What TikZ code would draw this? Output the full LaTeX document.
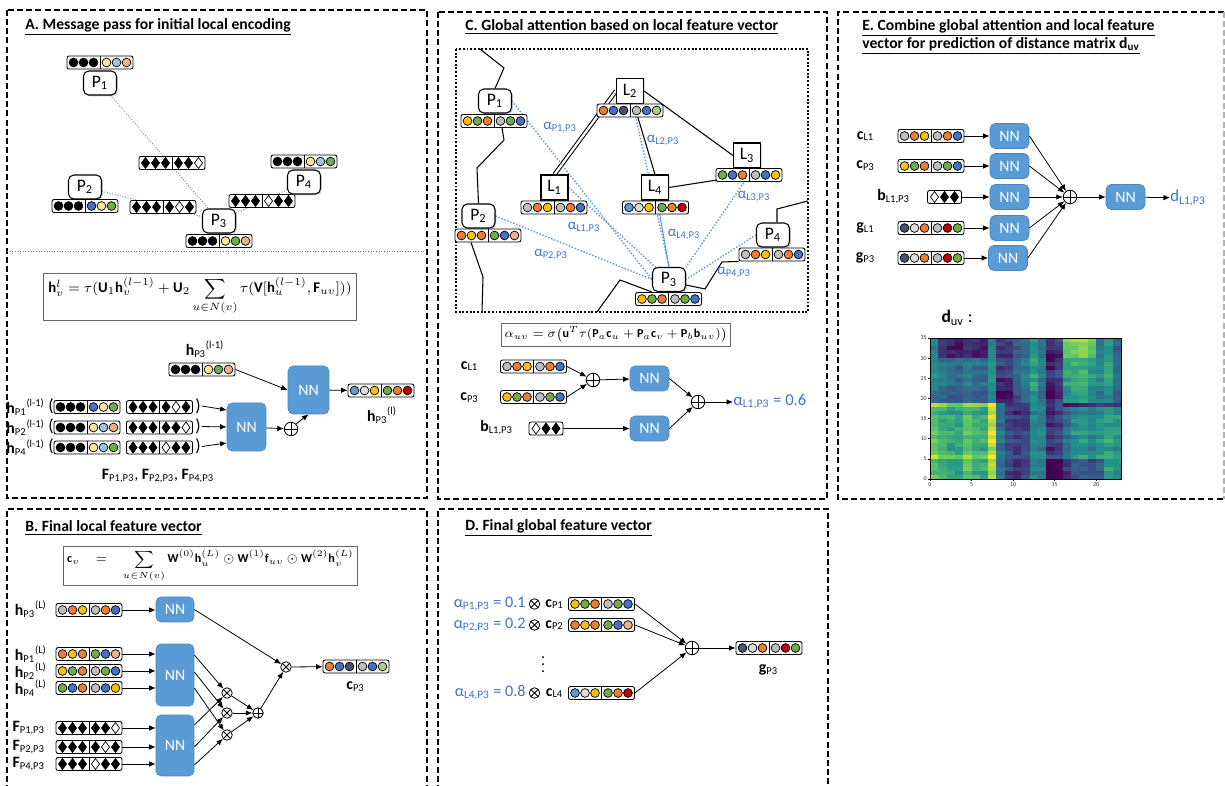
\documentclass[tikz,border=0pt]{standalone}
\usepackage{amsmath}
\usepackage{fontspec}
\setmainfont{Carlito}
\usetikzlibrary{arrows.meta,positioning,calc,shadows,backgrounds}
\definecolor{ylw}{HTML}{FFE699}
\definecolor{lbl}{HTML}{9DC3E6}
\definecolor{sal}{HTML}{F4B183}
\definecolor{blu}{HTML}{4472C4}
\definecolor{grn}{HTML}{70AD47}
\definecolor{org}{HTML}{ED7D31}
\definecolor{gld}{HTML}{FFC000}
\definecolor{gry}{HTML}{BFBFBF}
\definecolor{lgry}{HTML}{DDDDDD}
\definecolor{nvy}{HTML}{44546A}
\definecolor{dred}{HTML}{C00000}
\definecolor{lgrn}{HTML}{A9D18E}
\definecolor{sky}{HTML}{5B9BD5}
\definecolor{nnfill}{HTML}{5B9BD5}
\definecolor{nnedge}{HTML}{4A86C0}
\definecolor{attn}{HTML}{4472C4}
\definecolor{vir0}{HTML}{440154}
\definecolor{vir1}{HTML}{3B528B}
\definecolor{vir2}{HTML}{21918C}
\definecolor{vir3}{HTML}{5EC962}
\definecolor{vir4}{HTML}{FDE725}
\tikzset{
  panel/.style={draw=black, line width=1.1pt, dash pattern=on 3.4pt off 1.8pt},
  ghost/.style={draw=black!30, line width=1pt, dash pattern=on 3.4pt off 1.8pt},
  ttl/.style={anchor=west, inner sep=0pt, font=\fontsize{8.9}{10.4}\selectfont\bfseries},
  vecbox/.style={draw, rounded corners=1.2pt, fill=white, line width=0.5pt,
    minimum width=1.32cm, minimum height=0.26cm, inner sep=0pt},
  pnode/.style={draw, rounded corners=3pt, fill=white, line width=0.6pt,
    minimum width=0.66cm, minimum height=0.48cm, inner sep=0pt,
    font=\fontsize{10}{12}\selectfont,
    drop shadow={shadow xshift=0.8pt, shadow yshift=-0.8pt, opacity=0.35}},
  lnode/.style={draw, fill=white, line width=0.6pt,
    minimum width=0.54cm, minimum height=0.5cm, inner sep=0pt,
    font=\fontsize{10}{12}\selectfont,
    drop shadow={shadow xshift=0.6pt, shadow yshift=-0.6pt, opacity=0.25}},
  nn/.style={fill=nnfill, draw=nnedge, rounded corners=3pt, text=white,
    minimum width=0.78cm, minimum height=0.5cm, inner sep=0pt,
    font=\fontsize{9}{11}\selectfont},
  opl/.style={circle, draw, line width=0.5pt, minimum size=0.27cm, inner sep=0pt,
    path picture={\draw[line width=0.5pt] (path picture bounding box.north) -- (path picture bounding box.south)
      (path picture bounding box.west) -- (path picture bounding box.east);}},
  otm/.style={circle, draw, line width=0.45pt, minimum size=0.21cm, inner sep=0pt,
    path picture={\draw[line width=0.45pt] (path picture bounding box.north west) -- (path picture bounding box.south east)
      (path picture bounding box.south west) -- (path picture bounding box.north east);}},
  frm/.style={draw=black!60, line width=0.5pt, inner sep=2pt},
  lbl/.style={inner sep=0.5pt, font=\fontsize{9}{11}\selectfont},
  alab/.style={inner sep=0pt, text=attn, font=\fontsize{8.5}{10}\selectfont},
  tick/.style={inner sep=0.6pt, font=\fontsize{3.4}{4}\selectfont, text=black!80},
  arr/.style={-{Latex[length=1.3mm,width=1.1mm]}, line width=0.45pt},
  gdot/.style={draw=black!55, densely dotted, line width=0.5pt},
  bdot/.style={draw=sky, densely dotted, line width=0.8pt},
  bond/.style={line width=0.6pt}
}
% feature vectors: name, position, six colours
\newcommand{\cvec}[3]{%
  \node[vecbox] (#1) at (#2) {};
  \draw[line width=0.5pt] (#1.north) -- (#1.south);
  \edef\veclist{#3}%
  \foreach \cc [count=\i] in \veclist{%
    \pgfmathsetmacro\dx{-0.53+(\i-1)*0.2+(\i>3)*0.06}%
    \draw[fill=\cc, line width=0.4pt] ($(#1.center)+(\dx cm,0cm)$) circle[radius=0.088cm];
  }%
}
\newcommand{\dvec}[3]{%
  \node[vecbox] (#1) at (#2) {};
  \draw[line width=0.5pt] (#1.north) -- (#1.south);
  \edef\veclist{#3}%
  \foreach \cc [count=\i] in \veclist{%
    \pgfmathsetmacro\dx{-0.53+(\i-1)*0.2+(\i>3)*0.06}%
    \draw[fill=\cc, line width=0.4pt] ($(#1.center)+(\dx cm,0cm)$)
      +(0cm,0.11cm) -- +(0.08cm,0cm) -- +(0cm,-0.11cm) -- +(-0.08cm,0cm) -- cycle;
  }%
}
\newcommand{\hvec}[3]{%
  \node[vecbox, minimum width=0.68cm] (#1) at (#2) {};
  \edef\veclist{#3}%
  \foreach \cc [count=\i] in \veclist{%
    \pgfmathsetmacro\dx{(\i-2)*0.2}%
    \draw[fill=\cc, line width=0.4pt] ($(#1.center)+(\dx cm,0cm)$)
      +(0cm,0.11cm) -- +(0.08cm,0cm) -- +(0cm,-0.11cm) -- +(-0.08cm,0cm) -- cycle;
  }%
}
\newcommand{\vlab}[3]{{\bfseries #1}\textsubscript{#2}\textsuperscript{#3}}
% distance map data
\def\hmL{{0.72,0.62,0.58,0.58,0.72,0.62,0.6,0.88,0.35,0.2,0.15,0.2,0.45,0.42,0.15,0.22,0.35,0.48,0.5,0.45,0.52,0.55,0.5}}
\def\hmU{{0.45,0.38,0.35,0.33,0.4,0.35,0.33,0.5,0.2,0.18,0.32,0.42,0.55,0.4,0.18,0.28,0.55,0.6,0.62,0.5,0.45,0.55,0.35}}
\def\hmR{{0.02,-0.03,0.04,0.0,-0.02,0.08,0.03,-0.04,0.0,0.05,-0.02,0.06,0.02,-0.03,0.0,0.04,-0.05,0.01,0.0,-0.05,-0.08,-0.06,-0.02,0.03,0.0,0.05,0.02,-0.02,0.04,0.0,-0.06,-0.03,-0.05,-0.02,0.0}}

\begin{document}
\begin{tikzpicture}[x=0.02cm, y=-0.02cm]
\useasboundingbox (0,0) rectangle (1225,786);

% panel frames
\draw[panel] (7,10) rectangle (427,498);
\draw[panel] (438,12) rectangle (827,499);
\draw[panel] (1224,12) -- (838,12) -- (838,499) -- (1224,499);
\draw[ghost] (1224,12) -- (1224,499);
\draw[panel] (7,800) -- (7,509) -- (427,509) -- (427,800);
\draw[panel] (438,800) -- (438,509) -- (828,509) -- (828,800);

% ---------------- A
\node[ttl] (tA) at (25,27) {\underline{A. Message pass for initial local encoding}};
\node[pnode] (pA1) at (100,83) {P\textsubscript{1}};
\node[pnode] (pA2) at (85,187) {P\textsubscript{2}};
\node[pnode] (pA3) at (219,221) {P\textsubscript{3}};
\node[pnode] (pA4) at (304,182) {P\textsubscript{4}};
\begin{scope}[on background layer]
  \draw[gdot] (pA1) -- (pA3);
  \draw[gdot] (pA2) -- (pA3);
  \draw[gdot] (pA3) -- (pA4);
\end{scope}
\cvec{vA1}{100,62.5}{black,black,black,ylw,lbl,sal}
\cvec{vA2}{85,206}{black,black,black,blu,ylw,grn}
\cvec{vA3}{219,241}{black,black,black,ylw,grn,sal}
\cvec{vA4}{304,161.5}{black,black,black,ylw,lbl,grn}
\dvec{eA13}{172,163}{black,black,black,black,black,white}
\dvec{eA23}{163,207}{black,black,black,black,white,black}
\dvec{eA34}{262,201}{black,black,black,white,black,black}
\draw[gdot] (7,251) -- (427,251);

\node[frm, minimum width=6.26cm, minimum height=0.94cm, font=\fontsize{8.4}{10}\selectfont] (fA) at (200,296.5)
  {$\displaystyle \mathbf{h}_v^l=\tau(\mathbf{U}_1\mathbf{h}_v^{(l-1)}+\mathbf{U}_2\sum_{u\in N(v)}\tau(\mathbf{V}[\mathbf{h}_u^{(l-1)},\mathbf{F}_{uv}]))$};

\node[lbl] (ltA) at (205,349) {\vlab{h}{P3}{(l-1)}};
\cvec{vtA}{202,369.5}{black,black,black,ylw,grn,sal}
\node[nn, minimum width=0.82cm, minimum height=0.96cm] (nnA2) at (308.5,390) {NN};
\cvec{voA}{381,390.5}{sky,lgry,gld,grn,org,dred}
\node[lbl] (loA) at (382,415) {\vlab{h}{P3}{(l)}};

\foreach \r/\lab/\ua/\ub/\uc/\wa/\wb/\wc [count=\k] in
  {407/P1/blu/ylw/grn/black/white/black,
   427.5/P2/ylw/lbl/sal/black/black/white,
   447.5/P4/ylw/lbl/grn/white/black/black}{
  \node[lbl, anchor=east] (lhA\k) at (46,\r) {\vlab{h}{\lab}{(l-1)}};
  \node[lbl, font=\fontsize{10}{12}\selectfont] (lpA\k) at (51,\r-1) {(};
  \cvec{vhA\k}{87,\r}{black,black,black,\ua,\ub,\uc}
  \dvec{vfA\k}{159.5,\r}{black,black,black,\wa,\wb,\wc}
  \node[lbl, font=\fontsize{10}{12}\selectfont] (rpA\k) at (198,\r-1) {)};
}
\node[nn, minimum height=0.96cm] (nnA1) at (246.5,427) {NN};
\node[opl] (opA) at (291,429) {};
\draw[arr] (rpA1.east) -- ([yshift=0.34cm]nnA1.west);
\draw[arr] (rpA2.east) -- (nnA1.west);
\draw[arr] (rpA3.east) -- ([yshift=-0.32cm]nnA1.west);
\draw[arr] (nnA1) -- (opA);
\draw[arr] (opA.north east) -- (nnA2.south);
\draw[arr] (vtA.east) -- (nnA2.west);
\draw[arr] (nnA2) -- (voA);
\node[lbl] (lfA) at (158,476) {\textbf{F}\textsubscript{P1,P3}, \textbf{F}\textsubscript{P2,P3}, \textbf{F}\textsubscript{P4,P3}};

% ---------------- B
\node[ttl] (tB) at (25,528) {\underline{B. Final local feature vector}};
\node[frm, minimum width=5.34cm, minimum height=0.72cm, font=\fontsize{6.9}{8}\selectfont] (fB) at (210.5,566)
  {$\displaystyle \mathbf{c}_v \quad = \quad \sum_{u\in N(v)} \mathbf{W}^{(0)}\mathbf{h}_u^{(L)} \odot \mathbf{W}^{(1)}\mathbf{f}_{uv} \odot \mathbf{W}^{(2)}\mathbf{h}_v^{(L)}$};
\node[lbl, anchor=east] (lhB0) at (48,609) {\vlab{h}{P3}{(L)}};
\cvec{vhB0}{89,610}{gry,org,gld,gry,org,blu}
\node[nn, minimum width=0.76cm] (nnB1) at (175,609.5) {NN};
\draw[arr] (vhB0.east) -- (vhB0.east -| nnB1.west);

\foreach \r/\lab/\cols [count=\k] in
  {654/P1/{org,gld,org,grn,blu,sal},
   671/P2/{gld,grn,org,gry,grn,blu},
   688/P4/{grn,blu,org,gry,blu,gld}}{
  \node[lbl, anchor=east] (lhB\k) at (48,\r) {\vlab{h}{\lab}{(L)}};
  \cvec{vhB\k}{89,\r}{\cols}
}
\node[nn, minimum width=0.76cm, minimum height=1.24cm] (nnB2) at (175,675) {NN};
\foreach \k in {1,2,3}{ \draw[arr] (vhB\k.east) -- (vhB\k.east -| nnB2.west); }

\foreach \r/\lab/\cols [count=\k] in
  {728/{P1,P3}/{black,black,black,black,black,white},
   747/{P2,P3}/{black,black,black,black,white,black},
   764/{P4,P3}/{black,black,black,white,black,black}}{
  \node[lbl, anchor=east] (lfB\k) at (47,\r) {\vlab{F}{\lab}{}};
  \dvec{vfB\k}{89,\r}{\cols}
}
\node[nn, minimum width=0.76cm, minimum height=1.22cm] (nnB3) at (175,745.5) {NN};
\foreach \k in {1,2,3}{ \draw[arr] (vfB\k.east) -- (vfB\k.east -| nnB3.west); }

\node[otm] (otB1) at (227,693) {};
\node[otm] (otB2) at (227,713) {};
\node[otm] (otB3) at (227,735) {};
\draw[arr] ([yshift=0.4cm]nnB2.east) -- (otB1);
\draw[arr] ([yshift=0.06cm]nnB2.east) -- (otB2);
\draw[arr] ([yshift=-0.26cm]nnB2.east) -- (otB3);
\draw[arr] ([yshift=0.41cm]nnB3.east) -- (otB1);
\draw[arr] ([yshift=-0.03cm]nnB3.east) -- (otB2);
\draw[arr] ([yshift=-0.39cm]nnB3.east) -- (otB3);
\node[opl, minimum size=0.21cm] (opB) at (258,713) {};
\foreach \k in {1,2,3}{ \draw[arr] (otB\k) -- (opB); }
\node[otm] (otB0) at (286,667) {};
\draw[arr] (opB) -- (otB0);
\draw[arr] (nnB1.east) -- (otB0);
\cvec{vcB}{356,666.5}{org,blu,nvy,gry,blu,lgrn}
\draw[arr] (otB0) -- (vcB);
\node[lbl] (lcB) at (356,687) {\vlab{c}{P3}{}};

% ---------------- C
\node[ttl] (tC) at (465,27) {\underline{C. Global attention based on local feature vector}};
\draw[densely dotted, line width=1.1pt] (456,49) rectangle (808,312);
\node[pnode] (pC1) at (495,101) {P\textsubscript{1}};
\node[pnode] (pC2) at (478.5,216) {P\textsubscript{2}};
\node[pnode] (pC3) at (669,279.5) {P\textsubscript{3}};
\node[pnode] (pC4) at (773,235) {P\textsubscript{4}};
\node[lnode] (lC1) at (554.5,187.5) {L\textsubscript{1}};
\node[lnode] (lC2) at (630,91) {L\textsubscript{2}};
\node[lnode] (lC3) at (747,155.5) {L\textsubscript{3}};
\node[lnode] (lC4) at (655,187.5) {L\textsubscript{4}};
\coordinate (bb1) at (480,49);
\coordinate (bb2) at (482,312);
\coordinate (bb3) at (597,312);
\coordinate (bb4) at (808,201);
\begin{scope}[on background layer]
  \draw[bond, double, double distance=1.3pt] (lC1.north) -- (lC2.west);
  \draw[bond] (lC2) -- (lC4.north);
  \draw[bond] (lC2.east) -- (lC3.west);
  \draw[bond] (lC4.east) -- (749,175);
  \draw[bdot] (pC1.east) -- (pC3.west);
  \draw[bdot] (pC2.east) -- (pC3.west);
  \draw[bdot] (lC1.east) -- (pC3.center);
  \draw[bdot] (lC2) -- (pC3.north);
  \draw[sky, line width=0.6pt] (lC4) -- (pC3.north);
  \draw[bdot] (749,175) -- (pC3.north east);
  \draw[bdot] (pC4.west) -- (pC3.east);
\end{scope}
\cvec{vP1}{494,121}{gld,grn,org,gry,grn,blu}
\cvec{vL2}{630,110.5}{org,blu,nvy,gry,blu,lgrn}
\cvec{vL1}{554,207.5}{gry,org,gld,gry,org,blu}
\cvec{vL4}{655.5,207.5}{sky,lgry,gld,grn,org,dred}
\cvec{vL3}{749,175}{grn,blu,org,gry,blu,gld}
\cvec{vP2}{488,235.5}{org,gld,org,grn,blu,sal}
\cvec{vP4}{772,254.5}{gry,org,gld,gry,org,blu}
\cvec{vP3}{668.5,299}{gld,grn,org,gry,grn,blu}
% backbone
\draw[bond] (bb1) -- (504,68) -- (pC1.north);
\draw[bond] ($(vP1.south)+(8,0)$) -- (504,140) -- (477,168) -- (pC2.north);
\draw[bond] ($(vP2.south)+(-17,0)$) -- (483,277) -- (bb2);
\draw[bond] (bb3) -- (620,280) -- (pC3.south west);
\draw[bond] ($(pC3.south east)+(0,-7)$) -- (705,289) -- (722,262) -- (vP4.south west);
\draw[bond] ($(pC4.north)+(4,0)$) -- (777,209) -- (bb4);
\node[alab] (aP1) at (560,128) {α\textsubscript{P1,P3}};
\node[alab] (aL2) at (663,141) {α\textsubscript{L2,P3}};
\node[alab] (aL1) at (584,228) {α\textsubscript{L1,P3}};
\node[alab] (aL4) at (684,235) {α\textsubscript{L4,P3}};
\node[alab] (aL3) at (754,197) {α\textsubscript{L3,P3}};
\node[alab] (aP2) at (551,255) {α\textsubscript{P2,P3}};
\node[alab] (aP4) at (734,273) {α\textsubscript{P4,P3}};

\node[frm, minimum width=4.28cm, minimum height=0.46cm, font=\fontsize{6.9}{8}\selectfont] (fC) at (616,334.5)
  {$\alpha_{uv}=\sigma\bigl(\mathbf{u}^T\tau(\mathbf{P}_a\mathbf{c}_u+\mathbf{P}_a\mathbf{c}_v+\mathbf{P}_b\mathbf{b}_{uv})\bigr)$};
\node[lbl] (lcC1) at (470,366) {\vlab{c}{L1}{}};
\cvec{vcC1}{533.5,366.5}{gry,org,gld,gry,org,blu}
\node[lbl] (lcC3) at (470,398) {\vlab{c}{P3}{}};
\cvec{vcC3}{533.5,397}{gld,grn,org,gry,grn,blu}
\node[opl] (opC1) at (593,380) {};
\node[nn] (nnC1) at (649.5,378.5) {NN};
\node[lbl] (lbC) at (497,428) {\vlab{b}{L1,P3}{}};
\hvec{vbC}{546,428.5}{white,black,black}
\node[nn] (nnC2) at (649.5,428.5) {NN};
\node[opl] (opC2) at (698,402) {};
\node[alab, anchor=west, font=\fontsize{9.5}{11}\selectfont] (aC) at (733,402) {α\textsubscript{L1,P3} = 0.6};
\draw[arr] (vcC1.east) -- (opC1);
\draw[arr] (vcC3.east) -- (opC1);
\draw[arr] (opC1) -- (nnC1);
\draw[arr] (vbC) -- (nnC2);
\draw[arr] (nnC1.east) -- (opC2);
\draw[arr] (nnC2.east) -- (opC2);
\draw[arr] (opC2) -- (aC);

% ---------------- D
\node[ttl] (tD) at (465,528) {\underline{D. Final global feature vector}};
\foreach \r/\lab/\val/\nm/\cols [count=\k] in
  {604/{P1,P3}/0.1/P1/{gld,grn,org,gry,grn,blu},
   625/{P2,P3}/0.2/P2/{org,gld,org,grn,blu,sal},
   693/{L4,P3}/0.8/L4/{sky,lgry,gld,grn,org,dred}}{
  \node[alab, anchor=east, font=\fontsize{9.2}{11}\selectfont] (aD\k) at (526,\r) {α\textsubscript{\lab} = \val};
  \node[otm] (otD\k) at (534.5,\r) {};
  \node[lbl] (lcD\k) at (555,\r) {\vlab{c}{\nm}{}};
  \cvec{vcD\k}{601.5,\r}{\cols}
}
\node[lbl, inner sep=0pt] (dots) at (543,659) {$\vdots$};
\node[opl] (opD) at (692,648) {};
\foreach \k in {1,2,3}{ \draw[arr] (vcD\k.east) -- (opD); }
\cvec{vgD}{769,648}{nvy,lgry,org,gry,dred,grn}
\draw[arr] (opD) -- (vgD);
\node[lbl] (lgD) at (769,670) {\vlab{g}{P3}{}};

% ---------------- E
\node[ttl, anchor=north west, align=left] (tE) at (862,19)
  {\underline{E. Combine global attention and local feature}\\\underline{vector for prediction of distance matrix d\textsubscript{uv}}};
\node[lbl] (lE1) at (866,136) {\vlab{c}{L1}{}};
\node[lbl] (lE2) at (866,166) {\vlab{c}{P3}{}};
\node[lbl] (lE3) at (894,197) {\vlab{b}{L1,P3}{}};
\node[lbl] (lE4) at (866,228) {\vlab{g}{L1}{}};
\node[lbl] (lE5) at (866,258) {\vlab{g}{P3}{}};
\cvec{vE1}{931,136}{gry,org,gld,gry,org,blu}
\cvec{vE2}{931,166}{gld,grn,org,gry,grn,blu}
\hvec{vE3}{944.5,197}{white,black,black}
\cvec{vE4}{931,228}{nvy,lgry,org,gry,dred,grn}
\cvec{vE5}{931,258}{nvy,lgry,org,gry,dred,grn}
\node[nn] (nnE1) at (1009.5,136) {NN};
\node[nn] (nnE2) at (1009.5,166) {NN};
\node[nn] (nnE3) at (1009.5,197) {NN};
\node[nn] (nnE4) at (1009.5,228) {NN};
\node[nn] (nnE5) at (1008,258) {NN};
\node[opl] (opE) at (1070,197) {};
\node[nn] (nnE6) at (1125.5,197) {NN};
\node[alab, anchor=west, font=\fontsize{9.5}{11}\selectfont] (dE) at (1170,198) {d\textsubscript{L1,P3}};
\foreach \k in {1,...,5}{
  \draw[arr] (vE\k.east) -- (nnE\k);
  \draw[arr] (nnE\k.east) -- (opE);
}
\draw[arr] (opE) -- (nnE6);
\draw[arr] (nnE6) -- (dE);

% distance map
\node[lbl, font=\fontsize{10}{12}\selectfont] (dH) at (957,318) {\textbf{d}\textsubscript{uv} :};
\pgfmathsetseed{7}
\foreach \c in {0,...,22}{
  \foreach \r in {0,...,34}{
    \pgfmathsetmacro\hmv{(\r<19)*\hmL[\c]+(\r>18)*\hmU[\c]+\hmR[\r]
      +(\r==18)*(\c<8)*0.18-(\r==18)*(\c>15)*0.35+(\r==5)*(\c<8)*0.1
      +(\r==11)*(\c==7)*0.1-(\r<5)*(\c>13)*(\c<21)*0.22
      -(\r>29)*(\c>0)*(\c<7)*0.22+(\r>29)*(\c>15)*(\c<20)*0.25
      -(\r>19)*(\r<25)*(\c>7)*(\c<10)*0.1-(\r>19)*(\r<25)*(\c>13)*(\c<16)*0.1
      -(\r>26)*(\r<32)*(\c>13)*(\c<16)*0.12+0.12*rnd-0.06}
    \pgfmathsetmacro\hmv{min(0.999,max(0,\hmv))}
    \pgfmathtruncatemacro\hms{floor(\hmv*4)}
    \pgfmathtruncatemacro\hmn{\hms+1}
    \pgfmathsetmacro\hmf{(\hmv*4-\hms)*100}
    \colorlet{hc}{vir\hmn!\hmf!vir\hms}
    \fill[hc] ({930+\c*8.304},{479-(\r+1)*4.029}) rectangle ++(8.5,4.2);
  }
}
\draw[line width=0.3pt] (930,338) rectangle (1121,479);
\foreach \t in {0,5,...,20}{
  \draw[line width=0.3pt] ({930+\t*8.304},479) -- ++(0,2);
  \node[tick, anchor=north] (hx\t) at ({930+\t*8.304},481) {\t};
}
\foreach \t in {0,5,...,35}{
  \draw[line width=0.3pt] (930,{479-\t*4.029}) -- ++(-2,0);
  \node[tick, anchor=east] (hy\t) at (928,{479-\t*4.029}) {\t};
}
\end{tikzpicture}
\end{document}
